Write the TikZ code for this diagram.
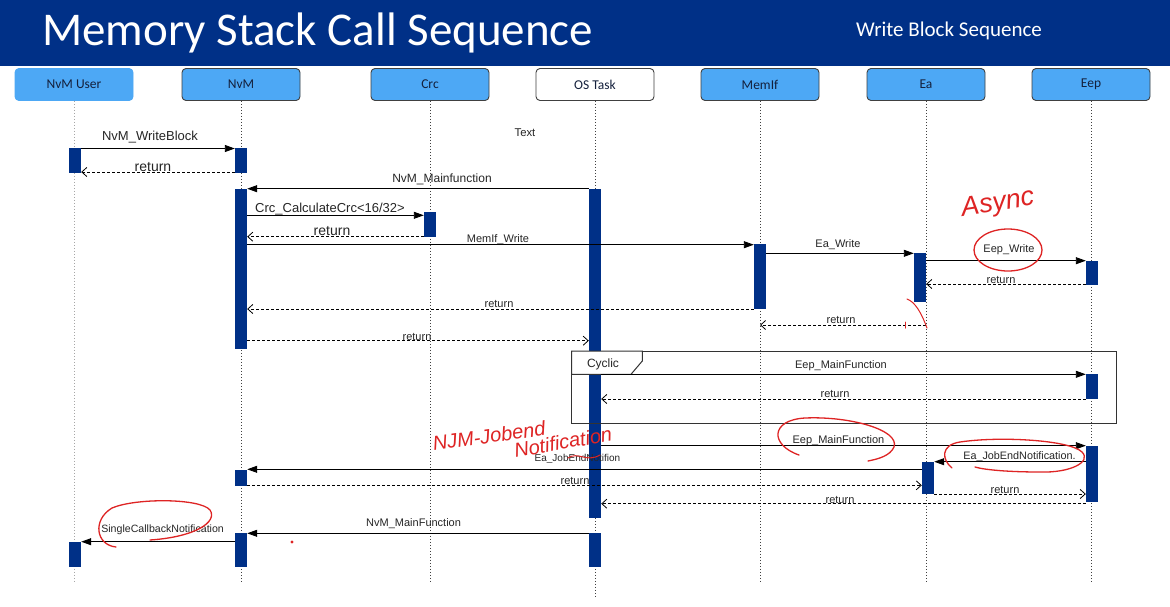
\documentclass[tikz,border=0pt]{standalone}
\usepackage{fontspec}
\setmainfont{Liberation Sans}
\newfontfamily\carl{Carlito}
\usetikzlibrary{arrows.meta}
\definecolor{navy}{RGB}{0,48,135}
\definecolor{boxblue}{RGB}{77,168,245}
\definecolor{boxtext}{RGB}{20,32,60}
\definecolor{pen}{RGB}{222,36,36}
\newcommand\mkbar[4]{\node[actbar, minimum height={#4-#3}] (#1) at (#2,{(#3+#4)/2}) {};}
\begin{document}
\begin{tikzpicture}[x=1pt,y=-1pt,
  lifebox/.style={draw=black!75, line width=0.9pt, fill=boxblue, rounded corners=4pt, minimum width=118pt, minimum height=32pt, inner sep=0pt, font=\carl\fontsize{13.5}{16}\selectfont, text=boxtext},
  lifeline/.style={draw=black!75, line width=1pt, dash pattern=on 1pt off 2pt},
  actbar/.style={fill=navy, draw=none, minimum width=12pt, inner sep=0pt},
  call/.style={draw=black, line width=0.9pt, -{Triangle[length=10pt,width=7pt]}},
  ret/.style={draw=black, line width=0.8pt, dash pattern=on 3pt off 2pt, -{Straight Barb[length=5pt,width=9pt]}},
  lbl/.style={font=\fontsize{#1}{#1}\selectfont, text=black!85, inner sep=0pt},
  lbl/.default=11,
  redink/.style={draw=pen, line width=1.3pt, line cap=round},
  hand/.style={font=\itshape\fontsize{#1}{#1}\selectfont, text=pen, inner sep=0pt}
]
\useasboundingbox (0,0) rectangle (1170,606);
\fill[white] (0,0) rectangle (1170,606);
% header
\fill[navy] (0,0) rectangle (1170,66);
\node[anchor=base west, text=white, font=\carl\fontsize{47}{50}\selectfont, inner sep=0pt] (title) at (42,45) {Memory Stack Call Sequence};
\node[anchor=base west, text=white, font=\carl\fontsize{21}{24}\selectfont, inner sep=0pt] (subtitle) at (856,36.5) {Write Block Sequence};
% lifeline heads
\node[lifebox, draw=boxblue] (user) at (74,84.5) {NvM User};
\node[lifebox] (nvm) at (241,84.5) {NvM};
\node[lifebox] (crc) at (430,84.5) {Crc};
\node[lifebox, fill=white] (os) at (595,84.5) {OS Task};
\node[lifebox] (memif) at (760,84.5) {MemIf};
\node[lifebox] (ea) at (926,84.5) {Ea};
\node[lifebox] (eep) at (1091,84.5) {Eep};
% lifelines
\draw[lifeline, draw=black!35] (user.south) -- (user.south |- 0,582);
\draw[lifeline] (nvm.south) -- (nvm.south |- 0,582);
\draw[lifeline] (crc.south) -- (crc.south |- 0,582);
\draw[lifeline] (os.south) -- (os.south |- 0,598);
\draw[lifeline] (memif.south) -- (memif.south |- 0,582);
\draw[lifeline] (ea.south) -- (ea.south |- 0,582);
\draw[lifeline] (eep.south) -- (eep.south |- 0,582);
% activation bars
\mkbar{u1}{75}{148}{172.5}
\mkbar{n1}{241}{148}{172.5}
\mkbar{n2}{241}{189}{349}
\mkbar{c1}{430}{212}{237}
\mkbar{o1}{595}{189}{517.5}
\mkbar{m1}{760}{244}{309}
\mkbar{e1}{920}{252.5}{301.5}
\mkbar{p1}{1092}{260.5}{285}
\mkbar{p2}{1092}{374}{399}
\mkbar{p3}{1092}{446}{501.5}
\mkbar{e2}{928}{462}{494}
\mkbar{n3}{241}{470}{486}
\mkbar{u2}{75}{541.5}{566.5}
\mkbar{n4}{241}{533}{566.5}
\mkbar{o2}{595}{533}{566.5}
% free text
\node[lbl=11.3] (txt) at (525,133) {Text};
% messages
\draw[call] (u1.east |- 0,148.5) -- (n1.west |- 0,148.5);
\node[lbl=13] (l1) at (150,137) {NvM\_WriteBlock};
\draw[ret] (n1.west |- 0,172) -- (u1.east |- 0,172);
\node[lbl=14] (l2) at (153,167.5) {return};
\draw[call] (o1.west |- 0,188.7) -- (n2.east |- 0,188.7);
\node[lbl=12] (l3) at (442,179) {NvM\_Mainfunction};
\draw[call] (n2.east |- 0,215.3) -- (c1.west |- 0,215.3);
\node[lbl=13] (l4) at (330,209) {Crc\_CalculateCrc<16/32>};
\draw[ret] (c1.west |- 0,236.7) -- (n2.east |- 0,236.7);
\node[lbl=14] (l5) at (332,231.5) {return};
\draw[call] (n2.east |- 0,244.7) -- (m1.west |- 0,244.7);
\node[lbl=11] (l6) at (498,239.5) {MemIf\_Write};
\draw[call] (m1.east |- 0,253.3) -- (e1.west |- 0,253.3);
\node[lbl=11] (l7) at (838,245) {Ea\_Write};
\draw[call] (e1.east |- 0,260.7) -- (p1.west |- 0,260.7);
\node[lbl=11] (l8) at (1009,250) {Eep\_Write};
\draw[ret] (p1.west |- 0,284) -- (e1.east |- 0,284);
\node[lbl=11] (l9) at (1001,279.5) {return};
\draw[ret] (m1.west |- 0,309) -- (n2.east |- 0,309);
\node[lbl=11] (l10) at (499,304) {return};
\draw[ret] (ea.south |- 0,325) -- (memif.south |- 0,325);
\node[lbl=11] (l11) at (841,320) {return};
\draw[ret] (n2.east |- 0,340.7) -- (o1.west |- 0,340.7);
\node[lbl=11] (l12) at (417,336.5) {return};
% cyclic frame
\draw[black!80, line width=1pt] (571.5,351) rectangle (1116,423.3);
\filldraw[black!80, fill=white, line width=1pt] (571.5,351) -- (642.3,351) -- (642.3,361) -- (631,374.3) -- (571.5,374.3) -- cycle;
\node[lbl=12] (cyc) at (603,364) {Cyclic};
\draw[call] (o1.east |- 0,374.3) -- (p2.west |- 0,374.3);
\node[lbl=11] (l13) at (841,365.7) {Eep\_MainFunction};
\draw[ret] (p2.west |- 0,399) -- (o1.east |- 0,399);
\node[lbl=11] (l14) at (835,394) {return};
\draw[call] (o1.east |- 0,445.7) -- (p3.west |- 0,445.7);
\node[lbl=11] (l15) at (838.5,440.7) {Eep\_MainFunction};
\draw[call] (p3.west |- 0,461.7) -- (e2.east |- 0,461.7);
\node[lbl=10.8] (l16) at (1019.5,456.7) {Ea\_JobEndNotification.};
\draw[call] (e2.west |- 0,469.3) -- (n3.east |- 0,469.3);
\node[lbl=10] (l17) at (577.5,459.3) {Ea\_JobEndNotifion};
\draw[ret] (n3.east |- 0,485.3) -- (e2.west |- 0,485.3);
\node[lbl=11] (l18) at (575,481) {return};
\draw[ret] (e2.east |- 0,494) -- (p3.west |- 0,494);
\node[lbl=11] (l19) at (1005,489.5) {return};
\draw[ret] (p3.west |- 0,503.7) -- (o1.east |- 0,503.7);
\node[lbl=11] (l20) at (840,499.5) {return};
\draw[call] (o2.west |- 0,533.3) -- (n4.east |- 0,533.3);
\node[lbl=11] (l21) at (413.6,523.3) {NvM\_MainFunction};
\draw[call] (n4.west |- 0,541.7) -- (u2.east |- 0,541.7);
\node[lbl=10.6] (l22) at (162.6,529.3) {SingleCallbackNotification};
% red annotations
\node[hand=27, rotate=9] (async) at (998,204) {Async};
\draw[redink] (1008,250) ellipse [x radius=34, y radius=21];
\draw[redink, line width=1pt] (907,299) .. controls (915,302) and (921,312) .. (927,328);
\draw[redink, line width=1pt] (905,322) -- (905,328);
\node[hand=20, rotate=8] (njm) at (489,436) {NJM-Jobend};
\node[hand=20, rotate=10] (notif) at (563,442) {Notification};
\draw[redink, line width=1pt] (568,458) .. controls (578,451) and (586,463) .. (600,455);
\draw[redink] (799,455) .. controls (770,445) and (770,420) .. (805,418) .. controls (850,416) and (900,430) .. (894,447) .. controls (890,456) and (878,459) .. (868,461);
\draw[redink] (952,468) .. controls (942,460) and (940,445) .. (960,442) .. controls (1000,436) and (1070,440) .. (1082,452) .. controls (1092,462) and (1070,473) .. (1040,472) .. controls (1010,472) and (985,470) .. (975,467);
\draw[redink] (116,547) .. controls (96,545) and (92,520) .. (112,508) .. controls (135,498) and (200,498) .. (210,510) .. controls (218,522) and (195,537) .. (150,540);
\fill[pen] (292,542) circle (1.6);
\end{tikzpicture}
\end{document}
